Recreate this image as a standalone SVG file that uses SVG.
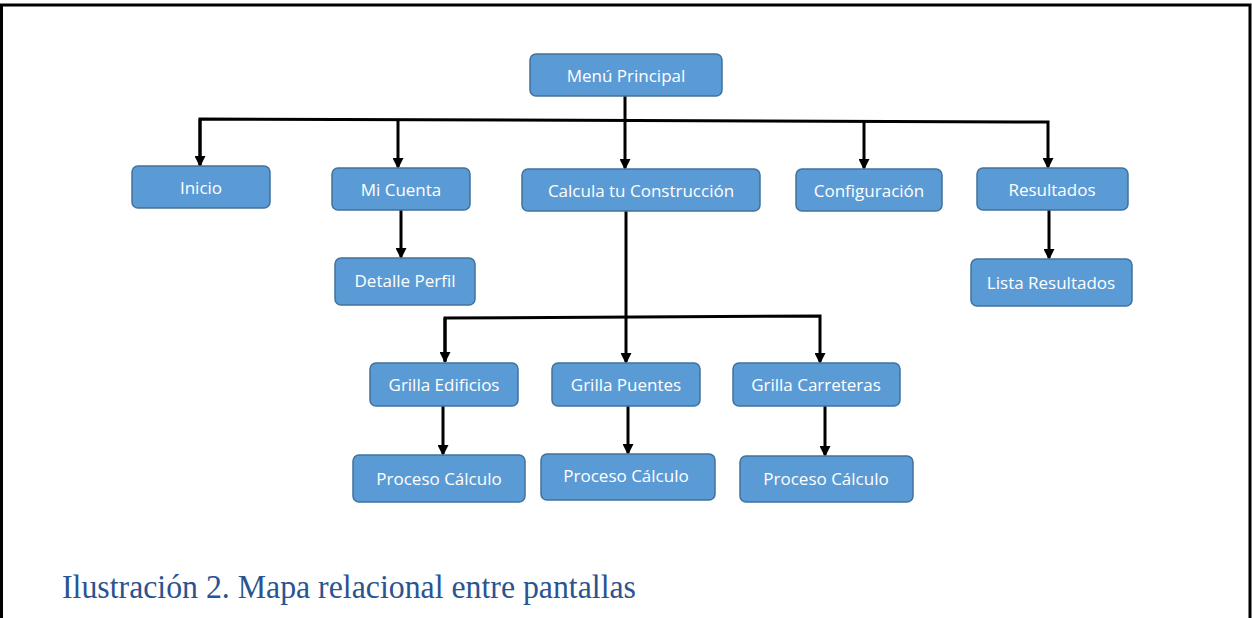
<svg xmlns="http://www.w3.org/2000/svg" width="1252" height="618" viewBox="0 0 1252 618">
<style>
.box{fill:#5B9BD5;stroke:#41719C;stroke-width:1.5}
.lbl{font-family:"Open Sans","Liberation Sans",sans-serif;font-size:17px;fill:#ffffff;text-anchor:middle;dominant-baseline:central}
.c{fill:none;stroke:#000;stroke-width:3}
.cap{font-family:"Liberation Serif",serif;font-size:33px;fill:#2A5490}
</style>
<defs>
<marker id="ah" markerWidth="11" markerHeight="11" refX="9" refY="5.5" orient="auto" markerUnits="userSpaceOnUse">
<path d="M0,0 L11,5.5 L0,11 Z" fill="#000"/>
</marker>
</defs>
<rect x="0" y="0" width="1252" height="618" fill="#fff"/>
<path d="M1.5,618 L1.5,5 L1250,5 L1250,618" fill="none" stroke="#000" stroke-width="3"/>
<g id="connectors">
<path class="c" d="M625,96 L625,168" marker-end="url(#ah)"/>
<path class="c" d="M200,166 L200,119 L1048,122 L1048,167" marker-end="url(#ah)"/>
<path class="c" d="M398,120 L398,167" marker-end="url(#ah)"/>
<path class="c" d="M864,121 L864,168" marker-end="url(#ah)"/>
<path class="c" d="M200,119 L200,165" marker-end="url(#ah)"/>
<path class="c" d="M401,210 L401,257" marker-end="url(#ah)"/>
<path class="c" d="M626,211 L626,362" marker-end="url(#ah)"/>
<path class="c" d="M445,362 L445,318 L820,316 L820,362" marker-end="url(#ah)"/>
<path class="c" d="M445,318 L445,361" marker-end="url(#ah)"/>
<path class="c" d="M1049,210 L1049,258" marker-end="url(#ah)"/>
<path class="c" d="M443,406 L443,454" marker-end="url(#ah)"/>
<path class="c" d="M628,406 L628,453" marker-end="url(#ah)"/>
<path class="c" d="M825,406 L825,455" marker-end="url(#ah)"/>
</g>
<g id="menu"><rect class="box" x="530" y="54" width="192" height="42" rx="6"/><text class="lbl" x="626" y="75">Menú Principal</text></g>
<g id="inicio"><rect class="box" x="132" y="166" width="138" height="42" rx="6"/><text class="lbl" x="201" y="187">Inicio</text></g>
<g id="micuenta"><rect class="box" x="332" y="168" width="138" height="42" rx="6"/><text class="lbl" x="401" y="189">Mi Cuenta</text></g>
<g id="calcula"><rect class="box" x="522" y="169" width="238" height="42" rx="6"/><text class="lbl" x="641" y="190">Calcula tu Construcción</text></g>
<g id="config"><rect class="box" x="796" y="169" width="146" height="42" rx="6"/><text class="lbl" x="869" y="190">Configuración</text></g>
<g id="resultados"><rect class="box" x="977" y="168" width="151" height="42" rx="6"/><text class="lbl" x="1052" y="189">Resultados</text></g>
<g id="detalle"><rect class="box" x="335" y="258" width="140" height="47" rx="6"/><text class="lbl" x="405" y="280">Detalle Perfil</text></g>
<g id="lista"><rect class="box" x="971" y="259" width="161" height="47" rx="6"/><text class="lbl" x="1051" y="282">Lista Resultados</text></g>
<g id="gedificios"><rect class="box" x="370" y="363" width="148" height="43" rx="6"/><text class="lbl" x="444" y="384">Grilla Edificios</text></g>
<g id="gpuentes"><rect class="box" x="552" y="363" width="148" height="43" rx="6"/><text class="lbl" x="626" y="384">Grilla Puentes</text></g>
<g id="gcarreteras"><rect class="box" x="733" y="363" width="167" height="43" rx="6"/><text class="lbl" x="816" y="384">Grilla Carreteras</text></g>
<g id="proc1"><rect class="box" x="353" y="455" width="172" height="47" rx="6"/><text class="lbl" x="439" y="478">Proceso Cálculo</text></g>
<g id="proc2"><rect class="box" x="541" y="454" width="174" height="46" rx="6"/><text class="lbl" x="626" y="475">Proceso Cálculo</text></g>
<g id="proc3"><rect class="box" x="740" y="456" width="173" height="46" rx="6"/><text class="lbl" x="826" y="478">Proceso Cálculo</text></g>
<text class="cap" x="62" y="598" textLength="574" lengthAdjust="spacingAndGlyphs">Ilustración 2. Mapa relacional entre pantallas</text>
</svg>
